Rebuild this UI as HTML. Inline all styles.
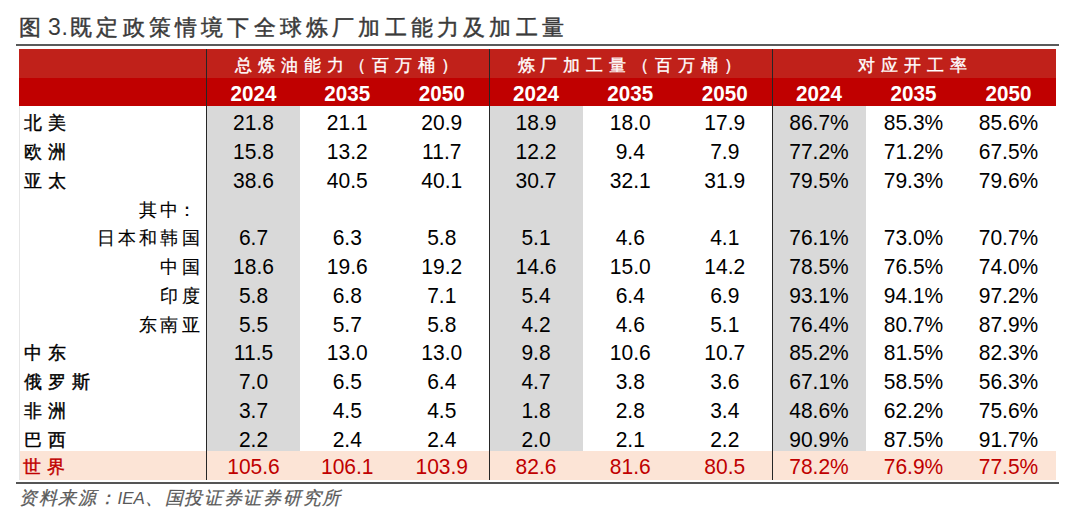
<!DOCTYPE html><html><head><meta charset="utf-8"><style>
*{margin:0;padding:0;box-sizing:border-box}
html,body{width:1080px;height:520px;background:#fff;overflow:hidden}
body{position:relative;font-family:"Liberation Sans",sans-serif}
.a{position:absolute}
.t{position:absolute;white-space:nowrap;display:flex;align-items:center;justify-content:center}
.num{font-size:21px;color:#000}
.num>span{display:inline-block;transform:translateY(2.4px) scaleY(1.07)}
.lab{font-size:18px;letter-spacing:3.3px;color:#000;-webkit-text-stroke:0.15px #000}
.lab.b{-webkit-text-stroke:0.4px #000;letter-spacing:6px}
.lab.b.w{-webkit-text-stroke:0.4px #c00000}
.lab>span{display:inline-block;transform:translateY(3px)}
.yr{font-size:20.6px;font-weight:bold;color:#fff}
.yr>span{display:inline-block;transform:translateY(1.8px) scaleY(1.05)}
.grp{font-size:17px;letter-spacing:5.9px;color:#fff;-webkit-text-stroke:0.35px #fff}
.grp>span{display:inline-block;transform:translate(1.5px,2px)}
</style></head><body>
<div class="a" style="left:19px;top:9px;font-size:21.5px;letter-spacing:4.2px;color:#3a3a3a;-webkit-text-stroke:0.45px #3a3a3a;line-height:36px;white-space:nowrap">图<span style="-webkit-text-stroke:0;letter-spacing:0.5px;margin-left:-4px;margin-right:2px;font-size:23px"> 3.</span>既定政策情境下全球炼厂加工能力及加工量</div>
<div class="a" style="left:16px;top:44.4px;width:1043px;height:1.6px;background:#5a5a5a"></div>
<div class="a" style="left:19px;top:49.2px;width:1037px;height:56.8px;background:#c0211a"></div>
<div class="a" style="left:19px;top:77.5px;width:1037px;height:28.5px;background:#c00000"></div>
<div class="a" style="left:207px;top:106.0px;width:93px;height:345.0px;background:#d9d9d9"></div>
<div class="a" style="left:489px;top:106.0px;width:94px;height:345.0px;background:#d9d9d9"></div>
<div class="a" style="left:772px;top:106.0px;width:94px;height:345.0px;background:#d9d9d9"></div>
<div class="a" style="left:19px;top:451.0px;width:1037px;height:29.0px;background:#fce4d6"></div>
<div class="a" style="left:206px;top:49.2px;width:1px;height:430.8px;background:#262626"></div>
<div class="a" style="left:489px;top:49.2px;width:1px;height:430.8px;background:#262626"></div>
<div class="a" style="left:772px;top:49.2px;width:1px;height:430.8px;background:#262626"></div>
<div class="a" style="left:18.5px;top:106.0px;width:1px;height:374.0px;background:#e6e6e6"></div>
<div class="a" style="left:16px;top:482.4px;width:1043px;height:1.9px;background:#555"></div>
<div class="t grp" style="left:207px;top:49.2px;width:282px;height:28.299999999999997px"><span>总炼油能力（百万桶）</span></div>
<div class="t grp" style="left:489px;top:49.2px;width:283px;height:28.299999999999997px"><span>炼厂加工量（百万桶）</span></div>
<div class="t grp" style="left:772px;top:49.2px;width:284px;height:28.299999999999997px"><span>对应开工率</span></div>
<div class="t yr" style="left:207px;top:77.5px;width:93px;height:28.5px"><span>2024</span></div>
<div class="t yr" style="left:300px;top:77.5px;width:94.5px;height:28.5px"><span>2035</span></div>
<div class="t yr" style="left:394.5px;top:77.5px;width:94.5px;height:28.5px"><span>2050</span></div>
<div class="t yr" style="left:489px;top:77.5px;width:94px;height:28.5px"><span>2024</span></div>
<div class="t yr" style="left:583px;top:77.5px;width:94.5px;height:28.5px"><span>2035</span></div>
<div class="t yr" style="left:677.5px;top:77.5px;width:94.5px;height:28.5px"><span>2050</span></div>
<div class="t yr" style="left:772px;top:77.5px;width:94px;height:28.5px"><span>2024</span></div>
<div class="t yr" style="left:866px;top:77.5px;width:95px;height:28.5px"><span>2035</span></div>
<div class="t yr" style="left:961px;top:77.5px;width:95px;height:28.5px"><span>2050</span></div>
<div class="t lab b" style="left:24px;top:106.0px;height:28.75px;justify-content:flex-start"><span>北美</span></div>
<div class="t num" style="left:207px;top:106.0px;width:93px;height:28.75px"><span>21.8</span></div>
<div class="t num" style="left:300px;top:106.0px;width:94.5px;height:28.75px"><span>21.1</span></div>
<div class="t num" style="left:394.5px;top:106.0px;width:94.5px;height:28.75px"><span>20.9</span></div>
<div class="t num" style="left:489px;top:106.0px;width:94px;height:28.75px"><span>18.9</span></div>
<div class="t num" style="left:583px;top:106.0px;width:94.5px;height:28.75px"><span>18.0</span></div>
<div class="t num" style="left:677.5px;top:106.0px;width:94.5px;height:28.75px"><span>17.9</span></div>
<div class="t num" style="left:772px;top:106.0px;width:94px;height:28.75px"><span>86.7%</span></div>
<div class="t num" style="left:866px;top:106.0px;width:95px;height:28.75px"><span>85.3%</span></div>
<div class="t num" style="left:961px;top:106.0px;width:95px;height:28.75px"><span>85.6%</span></div>
<div class="t lab b" style="left:24px;top:134.75px;height:28.75px;justify-content:flex-start"><span>欧洲</span></div>
<div class="t num" style="left:207px;top:134.75px;width:93px;height:28.75px"><span>15.8</span></div>
<div class="t num" style="left:300px;top:134.75px;width:94.5px;height:28.75px"><span>13.2</span></div>
<div class="t num" style="left:394.5px;top:134.75px;width:94.5px;height:28.75px"><span>11.7</span></div>
<div class="t num" style="left:489px;top:134.75px;width:94px;height:28.75px"><span>12.2</span></div>
<div class="t num" style="left:583px;top:134.75px;width:94.5px;height:28.75px"><span>9.4</span></div>
<div class="t num" style="left:677.5px;top:134.75px;width:94.5px;height:28.75px"><span>7.9</span></div>
<div class="t num" style="left:772px;top:134.75px;width:94px;height:28.75px"><span>77.2%</span></div>
<div class="t num" style="left:866px;top:134.75px;width:95px;height:28.75px"><span>71.2%</span></div>
<div class="t num" style="left:961px;top:134.75px;width:95px;height:28.75px"><span>67.5%</span></div>
<div class="t lab b" style="left:24px;top:163.5px;height:28.75px;justify-content:flex-start"><span>亚太</span></div>
<div class="t num" style="left:207px;top:163.5px;width:93px;height:28.75px"><span>38.6</span></div>
<div class="t num" style="left:300px;top:163.5px;width:94.5px;height:28.75px"><span>40.5</span></div>
<div class="t num" style="left:394.5px;top:163.5px;width:94.5px;height:28.75px"><span>40.1</span></div>
<div class="t num" style="left:489px;top:163.5px;width:94px;height:28.75px"><span>30.7</span></div>
<div class="t num" style="left:583px;top:163.5px;width:94.5px;height:28.75px"><span>32.1</span></div>
<div class="t num" style="left:677.5px;top:163.5px;width:94.5px;height:28.75px"><span>31.9</span></div>
<div class="t num" style="left:772px;top:163.5px;width:94px;height:28.75px"><span>79.5%</span></div>
<div class="t num" style="left:866px;top:163.5px;width:95px;height:28.75px"><span>79.3%</span></div>
<div class="t num" style="left:961px;top:163.5px;width:95px;height:28.75px"><span>79.6%</span></div>
<div class="t lab" style="left:19px;width:180.5px;top:192.25px;height:28.75px;justify-content:flex-end"><span>其<span style="letter-spacing:0">中</span>：</span></div>
<div class="t lab" style="left:19px;width:184px;top:221.0px;height:28.75px;justify-content:flex-end"><span>日本和韩国</span></div>
<div class="t num" style="left:207px;top:221.0px;width:93px;height:28.75px"><span>6.7</span></div>
<div class="t num" style="left:300px;top:221.0px;width:94.5px;height:28.75px"><span>6.3</span></div>
<div class="t num" style="left:394.5px;top:221.0px;width:94.5px;height:28.75px"><span>5.8</span></div>
<div class="t num" style="left:489px;top:221.0px;width:94px;height:28.75px"><span>5.1</span></div>
<div class="t num" style="left:583px;top:221.0px;width:94.5px;height:28.75px"><span>4.6</span></div>
<div class="t num" style="left:677.5px;top:221.0px;width:94.5px;height:28.75px"><span>4.1</span></div>
<div class="t num" style="left:772px;top:221.0px;width:94px;height:28.75px"><span>76.1%</span></div>
<div class="t num" style="left:866px;top:221.0px;width:95px;height:28.75px"><span>73.0%</span></div>
<div class="t num" style="left:961px;top:221.0px;width:95px;height:28.75px"><span>70.7%</span></div>
<div class="t lab" style="left:19px;width:184px;top:249.75px;height:28.75px;justify-content:flex-end"><span>中国</span></div>
<div class="t num" style="left:207px;top:249.75px;width:93px;height:28.75px"><span>18.6</span></div>
<div class="t num" style="left:300px;top:249.75px;width:94.5px;height:28.75px"><span>19.6</span></div>
<div class="t num" style="left:394.5px;top:249.75px;width:94.5px;height:28.75px"><span>19.2</span></div>
<div class="t num" style="left:489px;top:249.75px;width:94px;height:28.75px"><span>14.6</span></div>
<div class="t num" style="left:583px;top:249.75px;width:94.5px;height:28.75px"><span>15.0</span></div>
<div class="t num" style="left:677.5px;top:249.75px;width:94.5px;height:28.75px"><span>14.2</span></div>
<div class="t num" style="left:772px;top:249.75px;width:94px;height:28.75px"><span>78.5%</span></div>
<div class="t num" style="left:866px;top:249.75px;width:95px;height:28.75px"><span>76.5%</span></div>
<div class="t num" style="left:961px;top:249.75px;width:95px;height:28.75px"><span>74.0%</span></div>
<div class="t lab" style="left:19px;width:184px;top:278.5px;height:28.75px;justify-content:flex-end"><span>印度</span></div>
<div class="t num" style="left:207px;top:278.5px;width:93px;height:28.75px"><span>5.8</span></div>
<div class="t num" style="left:300px;top:278.5px;width:94.5px;height:28.75px"><span>6.8</span></div>
<div class="t num" style="left:394.5px;top:278.5px;width:94.5px;height:28.75px"><span>7.1</span></div>
<div class="t num" style="left:489px;top:278.5px;width:94px;height:28.75px"><span>5.4</span></div>
<div class="t num" style="left:583px;top:278.5px;width:94.5px;height:28.75px"><span>6.4</span></div>
<div class="t num" style="left:677.5px;top:278.5px;width:94.5px;height:28.75px"><span>6.9</span></div>
<div class="t num" style="left:772px;top:278.5px;width:94px;height:28.75px"><span>93.1%</span></div>
<div class="t num" style="left:866px;top:278.5px;width:95px;height:28.75px"><span>94.1%</span></div>
<div class="t num" style="left:961px;top:278.5px;width:95px;height:28.75px"><span>97.2%</span></div>
<div class="t lab" style="left:19px;width:184px;top:307.25px;height:28.75px;justify-content:flex-end"><span>东南亚</span></div>
<div class="t num" style="left:207px;top:307.25px;width:93px;height:28.75px"><span>5.5</span></div>
<div class="t num" style="left:300px;top:307.25px;width:94.5px;height:28.75px"><span>5.7</span></div>
<div class="t num" style="left:394.5px;top:307.25px;width:94.5px;height:28.75px"><span>5.8</span></div>
<div class="t num" style="left:489px;top:307.25px;width:94px;height:28.75px"><span>4.2</span></div>
<div class="t num" style="left:583px;top:307.25px;width:94.5px;height:28.75px"><span>4.6</span></div>
<div class="t num" style="left:677.5px;top:307.25px;width:94.5px;height:28.75px"><span>5.1</span></div>
<div class="t num" style="left:772px;top:307.25px;width:94px;height:28.75px"><span>76.4%</span></div>
<div class="t num" style="left:866px;top:307.25px;width:95px;height:28.75px"><span>80.7%</span></div>
<div class="t num" style="left:961px;top:307.25px;width:95px;height:28.75px"><span>87.9%</span></div>
<div class="t lab b" style="left:24px;top:336.0px;height:28.75px;justify-content:flex-start"><span>中东</span></div>
<div class="t num" style="left:207px;top:336.0px;width:93px;height:28.75px"><span>11.5</span></div>
<div class="t num" style="left:300px;top:336.0px;width:94.5px;height:28.75px"><span>13.0</span></div>
<div class="t num" style="left:394.5px;top:336.0px;width:94.5px;height:28.75px"><span>13.0</span></div>
<div class="t num" style="left:489px;top:336.0px;width:94px;height:28.75px"><span>9.8</span></div>
<div class="t num" style="left:583px;top:336.0px;width:94.5px;height:28.75px"><span>10.6</span></div>
<div class="t num" style="left:677.5px;top:336.0px;width:94.5px;height:28.75px"><span>10.7</span></div>
<div class="t num" style="left:772px;top:336.0px;width:94px;height:28.75px"><span>85.2%</span></div>
<div class="t num" style="left:866px;top:336.0px;width:95px;height:28.75px"><span>81.5%</span></div>
<div class="t num" style="left:961px;top:336.0px;width:95px;height:28.75px"><span>82.3%</span></div>
<div class="t lab b" style="left:24px;top:364.75px;height:28.75px;justify-content:flex-start"><span>俄罗斯</span></div>
<div class="t num" style="left:207px;top:364.75px;width:93px;height:28.75px"><span>7.0</span></div>
<div class="t num" style="left:300px;top:364.75px;width:94.5px;height:28.75px"><span>6.5</span></div>
<div class="t num" style="left:394.5px;top:364.75px;width:94.5px;height:28.75px"><span>6.4</span></div>
<div class="t num" style="left:489px;top:364.75px;width:94px;height:28.75px"><span>4.7</span></div>
<div class="t num" style="left:583px;top:364.75px;width:94.5px;height:28.75px"><span>3.8</span></div>
<div class="t num" style="left:677.5px;top:364.75px;width:94.5px;height:28.75px"><span>3.6</span></div>
<div class="t num" style="left:772px;top:364.75px;width:94px;height:28.75px"><span>67.1%</span></div>
<div class="t num" style="left:866px;top:364.75px;width:95px;height:28.75px"><span>58.5%</span></div>
<div class="t num" style="left:961px;top:364.75px;width:95px;height:28.75px"><span>56.3%</span></div>
<div class="t lab b" style="left:24px;top:393.5px;height:28.75px;justify-content:flex-start"><span>非洲</span></div>
<div class="t num" style="left:207px;top:393.5px;width:93px;height:28.75px"><span>3.7</span></div>
<div class="t num" style="left:300px;top:393.5px;width:94.5px;height:28.75px"><span>4.5</span></div>
<div class="t num" style="left:394.5px;top:393.5px;width:94.5px;height:28.75px"><span>4.5</span></div>
<div class="t num" style="left:489px;top:393.5px;width:94px;height:28.75px"><span>1.8</span></div>
<div class="t num" style="left:583px;top:393.5px;width:94.5px;height:28.75px"><span>2.8</span></div>
<div class="t num" style="left:677.5px;top:393.5px;width:94.5px;height:28.75px"><span>3.4</span></div>
<div class="t num" style="left:772px;top:393.5px;width:94px;height:28.75px"><span>48.6%</span></div>
<div class="t num" style="left:866px;top:393.5px;width:95px;height:28.75px"><span>62.2%</span></div>
<div class="t num" style="left:961px;top:393.5px;width:95px;height:28.75px"><span>75.6%</span></div>
<div class="t lab b" style="left:24px;top:422.25px;height:28.75px;justify-content:flex-start"><span>巴西</span></div>
<div class="t num" style="left:207px;top:422.25px;width:93px;height:28.75px"><span>2.2</span></div>
<div class="t num" style="left:300px;top:422.25px;width:94.5px;height:28.75px"><span>2.4</span></div>
<div class="t num" style="left:394.5px;top:422.25px;width:94.5px;height:28.75px"><span>2.4</span></div>
<div class="t num" style="left:489px;top:422.25px;width:94px;height:28.75px"><span>2.0</span></div>
<div class="t num" style="left:583px;top:422.25px;width:94.5px;height:28.75px"><span>2.1</span></div>
<div class="t num" style="left:677.5px;top:422.25px;width:94.5px;height:28.75px"><span>2.2</span></div>
<div class="t num" style="left:772px;top:422.25px;width:94px;height:28.75px"><span>90.9%</span></div>
<div class="t num" style="left:866px;top:422.25px;width:95px;height:28.75px"><span>87.5%</span></div>
<div class="t num" style="left:961px;top:422.25px;width:95px;height:28.75px"><span>91.7%</span></div>
<div class="t lab b w" style="left:23px;top:449.0px;height:29.0px;justify-content:flex-start;color:#c00000"><span>世界</span></div>
<div class="t num" style="left:207px;top:449.5px;width:93px;height:29.0px;color:#c00000"><span>105.6</span></div>
<div class="t num" style="left:300px;top:449.5px;width:94.5px;height:29.0px;color:#c00000"><span>106.1</span></div>
<div class="t num" style="left:394.5px;top:449.5px;width:94.5px;height:29.0px;color:#c00000"><span>103.9</span></div>
<div class="t num" style="left:489px;top:449.5px;width:94px;height:29.0px;color:#c00000"><span>82.6</span></div>
<div class="t num" style="left:583px;top:449.5px;width:94.5px;height:29.0px;color:#c00000"><span>81.6</span></div>
<div class="t num" style="left:677.5px;top:449.5px;width:94.5px;height:29.0px;color:#c00000"><span>80.5</span></div>
<div class="t num" style="left:772px;top:449.5px;width:94px;height:29.0px;color:#c00000"><span>78.2%</span></div>
<div class="t num" style="left:866px;top:449.5px;width:95px;height:29.0px;color:#c00000"><span>76.9%</span></div>
<div class="t num" style="left:961px;top:449.5px;width:95px;height:29.0px;color:#c00000"><span>77.5%</span></div>
<div class="a" style="left:19px;top:485.5px;font-size:18px;letter-spacing:1.7px;font-style:italic;color:#595959;line-height:24px;white-space:nowrap;-webkit-text-stroke:0.25px #595959">资料来源：<span style="font-size:17px;letter-spacing:0;-webkit-text-stroke:0">IEA</span>、国投证券证券研究所</div>
</body></html>
